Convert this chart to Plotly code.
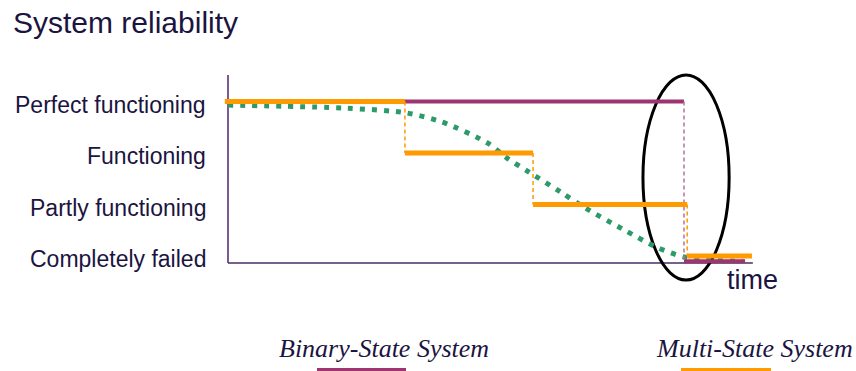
import plotly.graph_objects as go

# ---- data ----------------------------------------------------------------
# reliability states (numeric level -> label)
state_levels = [3, 2, 1, 0]
state_labels = ["Perfect functioning", "Functioning", "Partly functioning", "Completely failed"]

# multi-state system: time at which each state is entered, and end of the observed window
ms_change_times = [-0.07, 3.88, 6.69, 10.07]
ms_end_time = 11.49

# binary-state system: perfect until failure, then failed
bs_fail_time = 10.0
bs_end_time = 11.34
bs_failed_level = -0.10

# continuous degradation curve (time, level)
curve_t = [0.0, 2.6, 3.9, 4.7, 5.7, 6.12, 6.6, 7.3, 7.8, 8.7, 9.4, 10.0, 10.5, 11.3]
curve_v = [2.93, 2.87, 2.78, 2.60, 2.19, 1.90, 1.63, 1.24, 0.95, 0.50, 0.17, -0.02, -0.08, -0.10]

# axes extent
axis_t_max = 11.51
axis_v_min = -0.136
axis_v_max = 3.515

# highlighted failure region (ellipse bounds)
focus_t = [9.10, 10.99]
focus_v = [-0.466, 3.515]

# ---- styling --------------------------------------------------------------
PURPLE = "#9E3470"
PURPLE_LIGHT = "#B6739A"
ORANGE = "#FF9A00"
GREEN = "#2E9A6A"
AXIS = "#7A5A98"
AXIS_X = "#4A2C62"
TEXT = "#1B1440"
SANS = "Liberation Sans, Arial, sans-serif"
SERIF = "Liberation Serif, Times New Roman, serif"

fig = go.Figure()

# degradation curve (dotted)
fig.add_trace(go.Scatter(
    x=curve_t, y=curve_v, mode="lines",
    line=dict(color=GREEN, width=5, dash="5px,7px", shape="spline", smoothing=0.8),
    hoverinfo="skip", showlegend=False))

# binary-state system
fig.add_trace(go.Scatter(
    x=[0, bs_fail_time, None, bs_fail_time, bs_end_time],
    y=[state_levels[0], state_levels[0], None, bs_failed_level, bs_failed_level],
    mode="lines", line=dict(color=PURPLE, width=4),
    hoverinfo="skip", showlegend=False))
fig.add_trace(go.Scatter(
    x=[bs_fail_time, bs_fail_time], y=[state_levels[0], bs_failed_level],
    mode="lines", line=dict(color=PURPLE_LIGHT, width=1.5, dash="4px,3px"),
    hoverinfo="skip", showlegend=False))

# multi-state system: horizontal runs and dashed transitions
ms_bounds = ms_change_times + [ms_end_time]
hx, hy, vx, vy = [], [], [], []
for i, lvl in enumerate(state_levels):
    hx += [ms_bounds[i], ms_bounds[i + 1], None]
    hy += [lvl, lvl, None]
    if i + 1 < len(state_levels):
        vx += [ms_bounds[i + 1], ms_bounds[i + 1], None]
        vy += [lvl, state_levels[i + 1], None]
fig.add_trace(go.Scatter(
    x=vx, y=vy, mode="lines", line=dict(color=ORANGE, width=1.5, dash="4px,3px"),
    hoverinfo="skip", showlegend=False))
fig.add_trace(go.Scatter(
    x=hx, y=hy, mode="lines", line=dict(color=ORANGE, width=5),
    hoverinfo="skip", showlegend=False))

# axes drawn as lines
fig.add_shape(type="line", x0=0, x1=0, y0=axis_v_min, y1=axis_v_max,
              line=dict(color=AXIS, width=2), layer="below")
fig.add_shape(type="line", x0=0, x1=axis_t_max, y0=axis_v_min, y1=axis_v_min,
              line=dict(color=AXIS_X, width=1.5), layer="below")

# ellipse around the failure instant
fig.add_shape(type="circle", x0=focus_t[0], x1=focus_t[1], y0=focus_v[0], y1=focus_v[1],
              line=dict(color="black", width=3), layer="below")

# state labels
for lvl, lab in zip(state_levels, state_labels):
    fig.add_annotation(x=0, y=lvl, text=lab, showarrow=False, xanchor="right",
                       yanchor="middle", xshift=-20, yshift=-3,
                       font=dict(family=SANS, size=23, color=TEXT))

# x-axis title
fig.add_annotation(x=725 / 856, y=1 - 280 / 371, xref="paper", yref="paper", text="time",
                   showarrow=False, xanchor="left", yanchor="middle",
                   font=dict(family=SANS, size=27, color=TEXT))

# chart title
fig.add_annotation(x=11 / 856, y=1 - 22.5 / 371, xref="paper", yref="paper",
                   text="System reliability", showarrow=False, xanchor="left", yanchor="middle",
                   font=dict(family=SANS, size=30, color=TEXT))

# legend entries
legend_items = [
    ("Binary-State System", 277, PURPLE, 317, 406),
    ("Multi-State System", 654, ORANGE, 681, 771),
]
for text, tx, col, lx0, lx1 in legend_items:
    fig.add_annotation(x=tx / 856, y=1 - 348 / 371, xref="paper", yref="paper",
                       text=f"<i>{text}</i>", showarrow=False, xanchor="left", yanchor="middle",
                       font=dict(family=SERIF, size=26, color=TEXT))
    fig.add_shape(type="line", xref="paper", yref="paper",
                  x0=lx0 / 856, x1=lx1 / 856, y0=1 - 369.5 / 371, y1=1 - 369.5 / 371,
                  line=dict(color=col, width=3))

fig.update_layout(
    width=856, height=371,
    margin=dict(l=0, r=0, t=0, b=0),
    paper_bgcolor="white", plot_bgcolor="white",
    xaxis=dict(range=[-5.0, 13.772], visible=False, fixedrange=True),
    yaxis=dict(range=[-2.233, 4.971], visible=False, fixedrange=True),
    showlegend=False,
)

fig.write_html("out.html")
